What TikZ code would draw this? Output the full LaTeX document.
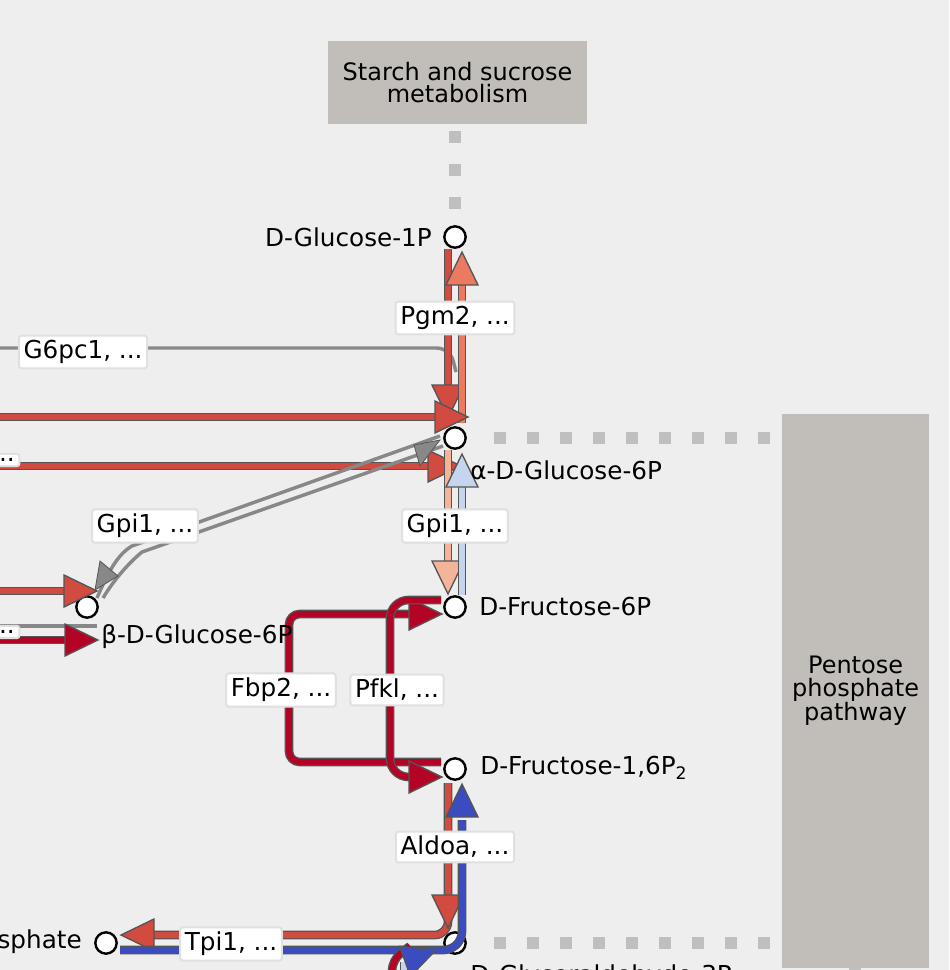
\documentclass[tikz,border=0pt]{standalone}
\usepackage{fontspec}
\setmainfont{DejaVu Sans}
\usetikzlibrary{calc}
\definecolor{bg}{HTML}{EEEEEE}
\definecolor{pw}{HTML}{C1BDB9}
\definecolor{cR}{HTML}{D24B40}
\definecolor{cDR}{HTML}{B40426}
\definecolor{cS}{HTML}{F4B49A}
\definecolor{cO}{HTML}{EC7A60}
\definecolor{cLB}{HTML}{C5D5EE}
\definecolor{cB}{HTML}{3B4CC0}
\definecolor{cG}{HTML}{888888}
\definecolor{ol}{HTML}{555555}
\tikzset{
  met/.style={circle,draw=black,fill=white,line width=1.8pt,minimum size=16pt,inner sep=0pt},
  lab/.style={fill=white,draw=black!12,line width=1.5pt,rounded corners=2pt,inner sep=3.5pt,font=\fontsize{18.5}{20}\selectfont},
  txt/.style={font=\fontsize{18.5}{20}\selectfont,inner sep=0pt},
  pbox/.style={fill=pw,font=\fontsize{18}{17}\selectfont,align=center},
  e/.style={line width=4.5pt,draw=#1,rounded corners=8pt,preaction={draw=ol,line width=6.5pt}},
  eg/.style={line width=2.6pt,draw=cG},
  dots/.style={draw=black!25,line width=9pt,dash pattern=on 9pt off 15.75pt},
}
\newcommand{\tri}[4]{% tip x,y ; angle ; colour
  \filldraw[fill=#4,draw=ol,line width=1pt,shift={(#1,#2)},rotate=-#3] (0,0) -- (-33,-16) -- (-33,16) -- cycle;}
\begin{document}
\begin{tikzpicture}[x=0.75pt,y=-0.75pt]
\fill[bg] (0,0) rectangle (949,970);
\useasboundingbox (0,0) rectangle (949,970);
\clip (0,0) rectangle (949,970);
% pathway boxes
\node[pbox,minimum width=194pt,minimum height=62pt] (ss) at (457.5,82.5) {Starch and sucrose\\metabolism};
\node[pbox,minimum width=110pt,minimum height=415pt,anchor=north west] (pp) at (782,414) {Pentose\\phosphate\\pathway};
% metabolites
\node[met] (g1p) at (455,237) {};
\node[met] (ag6p) at (455,438) {};
\node[met] (f6p) at (455,607) {};
\node[met] (fbp) at (455,769) {};
\node[met] (gap) at (455,943) {};
\node[met] (bg6p) at (87,607) {};
\node[met] (dhap) at (106,943) {};
% dotted links
\draw[dots] (455,131) -- (455,210);
\draw[dots] (494,438) -- (782,438);
\draw[dots] (494,943) -- (782,943);
\draw[dots] (855,968) -- (855,975);
% G6pc1 grey
\coordinate (g6a) at (-10,348);
\draw[eg,rounded corners=10pt] (g6a) -- (450,348) -- (456,372);
% Pgm2
\draw[e=cR] (g1p) ++(-7,12) -- ++(0,160);
\tri{448}{418}{90}{cR}
\draw[e=cO] (ag6p) ++(7,-15) -- ++(0,-145);
\tri{462}{252}{-90}{cO}
% big red left arrows
\coordinate (r1) at (-10,417);
\draw[e=cR] (r1) -- (440,417);
\tri{468}{417}{0}{cR}
\coordinate (r2) at (-10,466);
\draw[e=cR] (r2) -- (430,466);
\tri{461}{466}{0}{cR}
% Gpi1 left (grey two lines)
\draw[eg] (ag6p) ++(-15,-2) -- (132,546) .. controls (118,554) and (108,572) .. (97,598);
\draw[eg] (ag6p) ++(-12,8) -- (142,552) .. controls (130,562) and (115,578) .. (103,598);
\filldraw[fill=cG,draw=ol,line width=0.6pt] (95,590) -- (100,561) -- (118,576) -- cycle;
\filldraw[fill=cG,draw=ol,line width=0.6pt] (440,440) -- (414,445) -- (420,466) -- cycle;
% Gpi1 right
\draw[e=cS] (ag6p) ++(-7,12) -- ++(0,120);
\tri{448}{594}{90}{cS}
\draw[e=cLB] (f6p) ++(7,-12) -- ++(0,-120);
\tri{462}{454}{-90}{cLB}
% beta glucose red arrows
\coordinate (r3) at (-10,591);
\draw[e=cR] (r3) -- (70,591);
\tri{97}{591}{0}{cR}
\coordinate (r4) at (-10,626);
\draw[eg] (r4) -- (97,626);
\coordinate (r5) at (-10,640);
\draw[e=cDR] (r5) -- (70,640);
\tri{98}{640}{0}{cDR}
% Fbp2
\draw[e=cDR] (fbp) ++(-14,-7) -- (289,762) -- (289,614) -- (415,614);
\tri{442}{614}{0}{cDR}
% Pfkl
\draw[e=cDR,rounded corners=14pt] (f6p) ++(-14,-7) -- (390,600) -- (390,777) -- (415,777);
\tri{442}{777}{0}{cDR}
% Aldoa
\draw[e=cR,rounded corners=10pt] (fbp) ++(-7,14) -- (448,935) -- (150,935);
\tri{448}{928}{90}{cR}
\tri{121}{935}{180}{cR}
\draw[e=cB,rounded corners=14pt] (dhap) ++(14,7) -- (462,950) -- (462,820);
\tri{462}{784}{-90}{cB}
% bottom partial lines
\draw[e=cDR] (392,985) -- (392,960) -- (410,946);
\draw[e=cLB] (404,985) -- (404,962);
\tri{436}{950}{-20}{cB}
% metabolite texts
\node[txt,anchor=east] at (432,237) {D-Glucose-1P};
\node[txt,anchor=west] at (470,470) {α-D-Glucose-6P};
\node[txt,anchor=west] at (479,607) {D-Fructose-6P};
\node[txt,anchor=west] at (480,768) {D-Fructose-1,6P\textsubscript{2}};
\node[txt,anchor=west] at (101,637) {β-D-Glucose-6P};
\node[txt,anchor=east] at (82,942) {phosphate};
\node[txt,anchor=west] at (470,977) {D-Glyceraldehyde-3P};
% enzyme labels
\node[lab] (l1) at (455,318) {Pgm2, ...};
\node[lab] (l2) at (83,352) {G6pc1, ...};
\node[lab] (l3) at (3,460) {...};
\node[lab] (l4) at (145,526) {Gpi1, ...};
\node[lab] (l5) at (455,526) {Gpi1, ...};
\node[lab] (l6) at (3,632) {...};
\node[lab] (l7) at (281,690) {Fbp2, ...};
\node[lab] (l8) at (397,690) {Pfkl, ...};
\node[lab] (l9) at (455,847) {Aldoa, ...};
\node[lab] (l10) at (231,944) {Tpi1, ...};
\end{tikzpicture}
\end{document}
